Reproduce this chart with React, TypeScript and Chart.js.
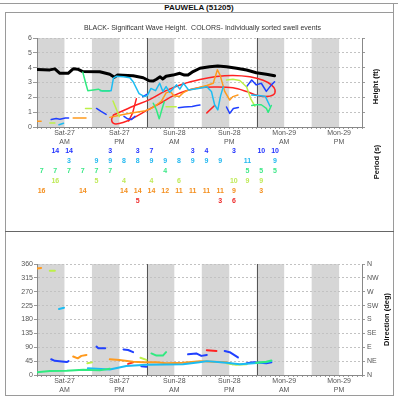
import React, { useEffect, useRef } from 'react';
import { Chart, registerables } from 'chart.js';

Chart.register(...registerables);

type Pt = [number, number];

const FONT = "'Liberation Sans', Arial, sans-serif";

// x axis = hours since Sat-27 00:00
const xMaxHours = 71;
const labelHours = [6, 18, 30, 42, 54, 66];
const dayLabels = ['Sat-27', 'Sat-27', 'Sun-28', 'Sun-28', 'Mon-29', 'Mon-29'];
const halfLabels = ['AM', 'PM', 'AM', 'PM', 'AM', 'PM'];
const shadedStart = [0, 12, 24, 36, 48, 60];
const shadeLength = 6;
const midnightHours = [24, 48];

const subtitle = 'BLACK- Significant Wave Height.  COLORS- Individually sorted swell events';

// ---- Height (ft) ----
const sigWaveHeight: Pt[] = [
  [0.0, 3.88], [2.8, 3.85], [3.9, 3.92], [5.0, 3.62], [6.8, 3.62], [7.9, 3.92], [8.9, 3.9],
  [10.0, 3.74], [13.7, 3.72], [15.9, 3.56], [16.9, 3.36], [17.6, 3.5], [21.0, 3.45], [23.2, 3.32],
  [24.5, 3.12], [25.4, 3.1], [26.1, 3.22], [26.9, 3.38], [27.5, 3.24], [28.2, 3.42], [29.7, 3.5],
  [31.2, 3.62], [32.2, 3.5], [33.0, 3.5], [34.1, 3.74], [35.6, 3.96], [37.7, 4.06], [39.5, 4.12],
  [41.4, 4.06], [43.6, 3.96], [45.8, 3.84], [47.9, 3.66], [50.1, 3.56], [51.9, 3.45],
];
const heightBlue: Pt[][] = [
  [[3.1, 0.5], [4.2, 0.57], [5.0, 0.52], [6.2, 0.6], [6.9, 0.6]],
  [[13.0, 1.25], [14.0, 1.05], [15.1, 0.85]],
  [[19.0, 0.72], [19.8, 0.55], [20.6, 0.5], [21.4, 0.72]],
  [[23.1, 2.05], [24.0, 2.2]],
  [[30.9, 1.3], [32.2, 1.35], [33.9, 1.38], [34.9, 1.45], [35.6, 1.48]],
  [[41.4, 1.35], [42.1, 0.92], [42.9, 1.25], [44.0, 1.32]],
  [[45.8, 2.72], [46.9, 3.17], [47.9, 2.84], [49.0, 2.95], [50.1, 2.4], [51.2, 2.84], [51.9, 3.05]],
];
const heightCyan: Pt[][] = [
  [[4.8, 0.15], [5.8, 0.25]],
  [[13.8, 2.45], [16.2, 2.45], [16.7, 3.3], [17.3, 3.42], [18.9, 3.38], [20.3, 3.32], [21.0, 3.05],
   [22.3, 2.25], [23.5, 2.05], [24.1, 2.12], [24.9, 2.6], [25.9, 2.45], [26.8, 2.95], [27.5, 2.39],
   [28.2, 2.72], [29.0, 2.34], [30.5, 2.84], [31.2, 2.55], [32.0, 2.95], [33.1, 2.5], [35.3, 2.6],
   [37.1, 2.72], [38.1, 2.4], [38.8, 1.5], [39.5, 1.15], [40.1, 2.1], [40.7, 2.72]],
  [[46.9, 2.15], [48.9, 2.1], [49.9, 2.05], [50.9, 1.4]],
];
const heightGreen: Pt[][] = [
  [[10.0, 3.7], [10.6, 3.0], [11.1, 2.45], [12.3, 2.5], [13.4, 2.55], [14.3, 2.42], [15.8, 2.42]],
  [[25.4, 1.6], [26.1, 1.15], [26.7, 0.55], [27.2, 1.1], [27.8, 1.7]],
  [[46.9, 1.45], [47.9, 1.5], [49.0, 1.5], [50.1, 1.26], [50.5, 0.99], [51.2, 1.45]],
];
const heightLime: Pt[][] = [
  [[2.8, 0.27], [3.9, 0.27]],
  [[10.6, 1.24], [11.9, 1.24]],
  [[16.6, 1.75], [18.0, 0.7]],
  [[28.2, 1.37], [30.4, 1.37]],
  [[41.4, 3.17], [42.8, 3.22], [44.3, 3.13], [45.8, 2.7], [46.7, 1.9], [47.6, 1.4]],
];
const heightOrange: Pt[][] = [
  [[0, 0.38], [0.9, 0.38]],
  [[7.9, 0.6], [10.7, 0.6]],
  [[15.9, 0.65], [17.8, 0.78], [19.7, 0.9], [21.7, 1.0], [23.7, 1.1], [25.2, 1.3], [26.2, 1.5], [27.2, 1.75],
   [28.2, 2.3], [29.1, 2.4], [29.9, 2.1], [31.1, 2.05], [31.9, 2.3], [33.1, 2.5], [34.6, 2.6], [35.6, 2.68],
   [37.1, 2.8], [38.5, 2.95], [39.4, 3.85], [40.0, 3.5], [41.0, 2.4], [42.1, 1.82], [42.8, 2.05], [43.9, 2.16]],
];
const heightRed: Pt[][] = [
  [[20.0, 0.4], [20.9, 0.95], [21.7, 1.9]],
  [[37.1, 0.95], [38.8, 1.45]],
];
const eventLoop: Pt[] = [
  [16.7, 0.81], [21.0, 1.4], [24.6, 1.85], [28.2, 2.45], [31.9, 2.9], [35.6, 3.2], [39.2, 3.4],
  [42.8, 3.47], [46.5, 3.38], [49.4, 3.15], [51.2, 2.84], [52.0, 2.5], [51.6, 2.16], [49.7, 2.05],
  [47.6, 2.18], [45.8, 2.39], [42.8, 2.64], [39.2, 2.7], [35.6, 2.66], [32.6, 2.45], [29.7, 2.1],
  [26.9, 1.6], [23.9, 1.1], [21.0, 0.6], [18.8, 0.3], [16.9, 0.22], [16.3, 0.47], [16.7, 0.81],
];

// ---- Period (s) rows, one column every 3 hours ----
const periodHours = [1, 4, 7, 10, 13, 16, 19, 22, 25, 28, 31, 34, 37, 40, 43, 46, 49, 52];
const periodBlue = [null, 14, 14, null, null, 3, null, 3, 7, null, null, 3, 4, null, 3, null, 10, 10];
const periodCyan = [null, null, 3, null, 9, 9, 8, 8, 9, 9, 8, 9, 9, 9, null, 11, null, 9];
const periodGreen = [7, 7, 7, 7, 7, 7, null, null, null, 4, null, null, null, null, null, 5, 5, 5];
const periodLime = [null, 16, null, null, 5, null, 4, null, 4, null, 6, null, null, null, 10, 9, 9, null];
const periodOrange = [16, null, null, 14, null, null, 14, 14, 14, 12, 11, 11, 11, 11, 9, null, 3, null];
const periodRed = [null, null, null, null, null, null, null, 5, null, null, null, null, null, 3, 6, null, null, null];

// ---- Direction (deg) ----
const dirTicks = [0, 45, 90, 135, 180, 225, 270, 315, 360];
const compass = ['N', 'NE', 'E', 'SE', 'S', 'SW', 'W', 'NW', 'N'];
const dirBlue: Pt[][] = [
  [[3.1, 51], [3.9, 46], [5.4, 44], [6.5, 42], [6.9, 45]],
  [[13.0, 92], [13.4, 87], [14.9, 87]],
  [[18.9, 83], [19.9, 81], [21.0, 74]],
  [[22.8, 28], [23.9, 27]],
  [[33.0, 67], [34.8, 70], [35.9, 62], [37.1, 65]],
  [[41.0, 78], [42.1, 74], [43.9, 57]],
  [[45.8, 38], [47.3, 41], [50.1, 38], [51.2, 41]],
];
const dirCyan: Pt[][] = [
  [[4.8, 214], [5.9, 218]],
  [[11.1, 22], [15.9, 18], [19.5, 29], [23.9, 33], [31.9, 35], [35.5, 41], [37.1, 45], [41.4, 40],
   [44.3, 35], [47.3, 38], [50.1, 41], [51.2, 45]],
];
const dirGreen: Pt[][] = [
  [[0, 9], [2.8, 13], [6.5, 14], [10.1, 17], [13.7, 15], [15.9, 20]],
  [[25.0, 70], [26.1, 63], [27.5, 63], [28.2, 74]],
  [[47.9, 40], [50.1, 43], [51.2, 47]],
];
const dirLime: Pt[][] = [
  [[2.8, 338], [3.9, 338]],
  [[11.0, 38], [12.0, 41]],
  [[22.6, 56], [23.9, 49]],
  [[41.4, 38], [43.5, 33], [45.8, 35]],
];
const dirOrange: Pt[][] = [
  [[0, 345], [0.9, 347]],
  [[7.9, 60], [8.9, 54], [9.7, 62], [10.8, 65]],
  [[15.9, 51], [18.0, 49], [21.0, 43], [23.2, 41], [26.1, 41], [28.2, 38], [31.9, 40], [35.6, 45],
   [38.4, 43], [41.4, 41], [42.8, 35]],
];
const dirRed: Pt[][] = [
  [[19.9, 36], [21.0, 41]],
  [[37.1, 80], [39.2, 78]],
];

const C = {
  blue: '#2040ff', cyan: '#1cbcf2', green: '#30ea80', lime: '#bdf048', orange: '#ff9a1e', red: '#ff2222',
};

function lines(list: Pt[][], color: string, width = 1.5, tension = 0) {
  return list.map((seg) => ({
    data: seg.map(([x, y]) => ({ x, y })),
    borderColor: color,
    borderWidth: width,
    pointRadius: 0,
    tension,
    fill: false,
    borderCapStyle: 'round',
    borderJoinStyle: 'round',
  }));
}

function xScale(height: number) {
  return {
    type: 'linear',
    min: 0,
    max: xMaxHours,
    afterFit: (s: any) => { s.height = height; },
    ticks: {
      stepSize: 1,
      maxTicksLimit: 200,
      autoSkip: false,
      maxRotation: 0,
      minRotation: 0,
      padding: 0,
      color: '#555',
      font: { family: FONT, size: 7, lineHeight: 1.2 },
      callback: (v: any) => {
        const i = labelHours.indexOf(Number(v));
        return i >= 0 ? [dayLabels[i], halfLabels[i]] : '';
      },
    },
    grid: { drawOnChartArea: false, tickLength: 2, tickColor: '#999' },
    border: { color: '#888' },
  };
}

const bandsPlugin = {
  id: 'bands',
  beforeDraw(chart: any) {
    const { ctx, chartArea: a, scales } = chart;
    const x = scales.x;
    ctx.save();
    ctx.fillStyle = '#d6d6d6';
    for (const s of shadedStart) {
      const x0 = x.getPixelForValue(s);
      const x1 = x.getPixelForValue(Math.min(s + shadeLength, xMaxHours));
      ctx.fillRect(x0, a.top, x1 - x0, a.bottom - a.top);
    }
    ctx.restore();
  },
  beforeDatasetsDraw(chart: any) {
    const { ctx, chartArea: a, scales } = chart;
    ctx.save();
    ctx.strokeStyle = '#555';
    ctx.lineWidth = 1;
    for (const h of midnightHours) {
      const px = Math.round(scales.x.getPixelForValue(h)) + 0.5;
      ctx.beginPath();
      ctx.moveTo(px, a.top);
      ctx.lineTo(px, a.bottom);
      ctx.stroke();
    }
    ctx.restore();
  },
};

function vText(ctx: any, text: string, x: number, y: number) {
  ctx.save();
  ctx.translate(x, y);
  ctx.rotate(-Math.PI / 2);
  ctx.fillText(text, 0, 0);
  ctx.restore();
}

const topTextPlugin = {
  id: 'topText',
  afterDraw(chart: any) {
    const { ctx, chartArea: a, scales } = chart;
    ctx.save();
    ctx.textAlign = 'center';
    ctx.textBaseline = 'middle';
    ctx.fillStyle = '#333';
    ctx.font = `7px ${FONT}`;
    ctx.fillText(subtitle, (a.left + a.right) / 2 + 3, a.top - 10);
    ctx.fillStyle = '#111';
    ctx.font = `bold 7.5px ${FONT}`;
    vText(ctx, 'Height (ft)', a.right + 14, (a.top + a.bottom) / 2 + 4);
    vText(ctx, 'Period (s)', a.right + 15, a.bottom + 35);
    const rows: [(number | null)[], string][] = [
      [periodBlue, '#2233ff'], [periodCyan, '#22b8f0'], [periodGreen, '#3ee888'],
      [periodLime, '#bfea58'], [periodOrange, '#f49020'], [periodRed, '#ee2a2a'],
    ];
    ctx.font = `bold 7px ${FONT}`;
    rows.forEach(([vals, color], i) => {
      ctx.fillStyle = color;
      vals.forEach((v, k) => {
        if (v == null) return;
        ctx.fillText(String(v), scales.x.getPixelForValue(periodHours[k]), a.bottom + 24 + i * 10);
      });
    });
    ctx.restore();
  },
};

const botTextPlugin = {
  id: 'botText',
  afterDraw(chart: any) {
    const { ctx, chartArea: a } = chart;
    ctx.save();
    ctx.textAlign = 'center';
    ctx.textBaseline = 'middle';
    ctx.fillStyle = '#111';
    ctx.font = `bold 7.5px ${FONT}`;
    vText(ctx, 'Direction (deg)', a.right + 25, (a.top + a.bottom) / 2);
    ctx.restore();
  },
};

const tickFont = { family: FONT, size: 7 };

function topConfig(): any {
  const datasets = [
    ...lines(heightGreen, C.green),
    ...lines(heightLime, C.lime),
    ...lines(heightCyan, C.cyan),
    ...lines(heightOrange, C.orange),
    ...lines(heightBlue, C.blue),
    ...lines(heightRed, C.red),
    ...lines([eventLoop], C.red, 1.5, 0.35),
    ...lines([sigWaveHeight], '#000', 3),
  ];
  return {
    type: 'line',
    data: { datasets },
    options: {
      animation: false,
      responsive: false,
      devicePixelRatio: 1,
      layout: { padding: { top: 25, left: 0, right: 0, bottom: 74 } },
      plugins: { legend: { display: false }, tooltip: { enabled: false } },
      scales: {
        x: xScale(30),
        y: {
          min: 0, max: 6,
          afterFit: (s: any) => { s.width = 32; },
          ticks: { stepSize: 1, color: '#555', font: tickFont, padding: 1 },
          grid: { color: '#c2c2c2', tickLength: 4, tickColor: '#999' },
          border: { color: '#888', dash: [2, 2] },
        },
        yR: {
          position: 'right', min: 0, max: 6,
          afterFit: (s: any) => { s.width = 31; },
          ticks: { stepSize: 1, display: false },
          grid: { drawOnChartArea: false, tickLength: 3, tickColor: '#999' },
          border: { color: '#888' },
        },
      },
    },
    plugins: [bandsPlugin, topTextPlugin],
  };
}

function botConfig(): any {
  const datasets = [
    ...lines(dirGreen, C.green, 2),
    ...lines(dirCyan, C.cyan, 2),
    ...lines(dirLime, C.lime, 2),
    ...lines(dirOrange, C.orange, 2),
    ...lines(dirBlue, C.blue, 2),
    ...lines(dirRed, C.red, 2),
  ];
  return {
    type: 'line',
    data: { datasets },
    options: {
      animation: false,
      responsive: false,
      devicePixelRatio: 1,
      layout: { padding: { top: 32, left: 0, right: 0, bottom: 0 } },
      plugins: { legend: { display: false }, tooltip: { enabled: false } },
      scales: {
        x: xScale(21),
        y: {
          min: 0, max: 360,
          afterFit: (s: any) => { s.width = 32; },
          ticks: { stepSize: 45, color: '#555', font: tickFont, padding: 1 },
          grid: { color: '#c2c2c2', tickLength: 3, tickColor: '#999' },
          border: { color: '#888', dash: [2, 2] },
        },
        y2: {
          position: 'right', min: 0, max: 360,
          afterFit: (s: any) => { s.width = 31; },
          ticks: {
            stepSize: 45, color: '#555', font: tickFont, padding: 2,
            callback: (v: any) => compass[dirTicks.indexOf(Number(v))] ?? '',
          },
          grid: { drawOnChartArea: false, tickLength: 3, tickColor: '#999' },
          border: { color: '#888' },
        },
      },
    },
    plugins: [bandsPlugin, botTextPlugin],
  };
}

const line = (left: number, top: number, width: number, height: number, color = '#9a9a9a') => (
  <div style={{ position: 'absolute', left, top, width, height, background: color }} />
);

export default function App() {
  const topRef = useRef<HTMLCanvasElement>(null);
  const botRef = useRef<HTMLCanvasElement>(null);
  useEffect(() => {
    const top = new Chart(topRef.current as HTMLCanvasElement, topConfig());
    const bot = new Chart(botRef.current as HTMLCanvasElement, botConfig());
    return () => { top.destroy(); bot.destroy(); };
  }, []);
  return (
    <div style={{ position: 'fixed', left: 0, top: 0, width: 398, height: 400, background: '#fff', overflow: 'hidden' }}>
      {line(0, 3, 398, 1)}
      {line(5, 12, 389, 1)}
      {line(5, 12, 1, 384)}
      {line(393, 3, 1, 393)}
      {line(5, 395, 389, 1)}
      {line(5, 231, 389, 1, '#666')}
      <div style={{ position: 'absolute', left: 0, top: 3, width: 398, height: 9, lineHeight: '9px', textAlign: 'center', font: `bold 8px ${FONT}`, color: '#111' }}>
        PAUWELA (51205)
      </div>
      <canvas ref={topRef} width={388} height={218} style={{ position: 'absolute', left: 5, top: 13 }} />
      <canvas ref={botRef} width={388} height={164} style={{ position: 'absolute', left: 5, top: 232 }} />
    </div>
  );
}
